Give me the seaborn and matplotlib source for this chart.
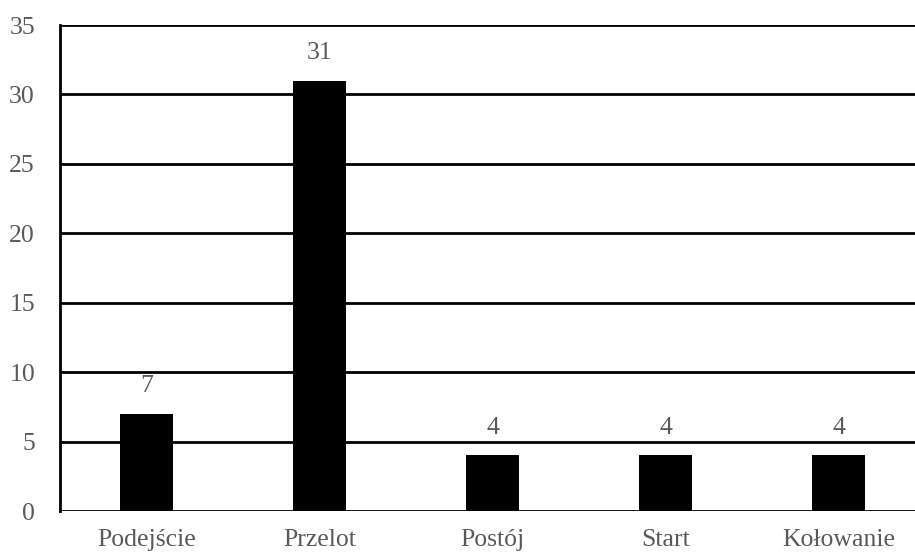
import numpy as np
import matplotlib
matplotlib.use("Agg")
import matplotlib.pyplot as plt
import seaborn as sns
import pandas as pd

# chart data
categories = ["Podejście", "Przelot", "Postój", "Start", "Kołowanie"]
counts = [7, 31, 4, 4, 4]
y_ticks = [0, 5, 10, 15, 20, 25, 30, 35]

df = pd.DataFrame({"phase": categories, "count": counts})

sns.set_style("white")
plt.rcParams["font.family"] = ["Liberation Serif", "DejaVu Serif"]
text_color = "#595959"

fig = plt.figure(figsize=(9.15, 5.54), dpi=100)
ax = fig.add_axes([60 / 915, 43 / 554, 865 / 915, 486 / 554])

sns.barplot(data=df, x="phase", y="count", color="black", width=0.31,
            saturation=1, edgecolor="black", linewidth=0, ax=ax, zorder=3)

ax.set_ylim(0, 35)
ax.set_xlim(-0.5, 4.5)
ax.set_yticks(y_ticks)
ax.yaxis.grid(True, color="black", linewidth=2, zorder=0)
ax.set_axisbelow(True)
ax.set_xlabel("")
ax.set_ylabel("")

for side in ["top", "right", "bottom"]:
    ax.spines[side].set_visible(False)
ax.spines["left"].set_color("black")
ax.spines["left"].set_linewidth(2)

ax.tick_params(axis="y", length=0, pad=18, labelsize=18.5, labelcolor=text_color)
ax.tick_params(axis="x", length=0, pad=13, labelsize=18.5, labelcolor=text_color)

for container in ax.containers:
    ax.bar_label(container, fmt="%d", padding=12, fontsize=18.5, color=text_color)

fig.savefig("out.png", dpi=100)
